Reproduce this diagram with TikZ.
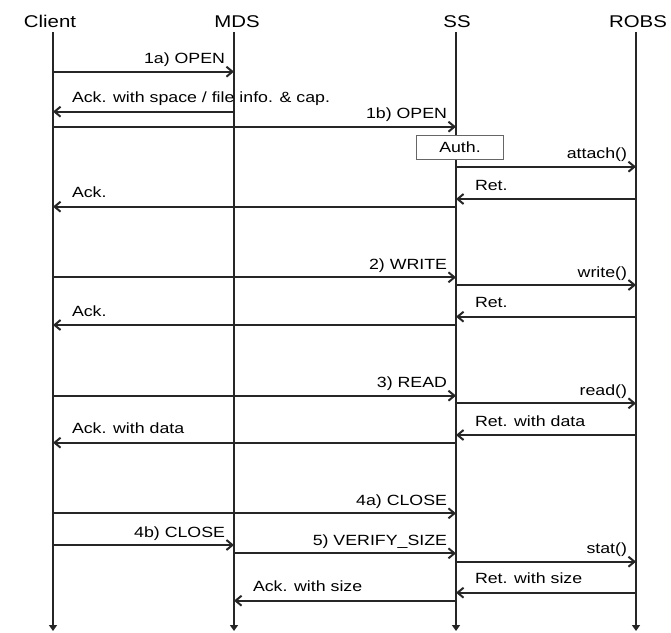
\documentclass[tikz,border=0pt]{standalone}
\usepackage{fontspec}
\setmainfont{Liberation Sans}[FakeStretch=1.2]
\usetikzlibrary{arrows.meta,positioning}

% message to the right: name, from, to, y, label
\newcommand{\callmsg}[5]{%
  \draw[msg] (#2 |- 0,#4) -- (#3 |- 0,#4)
    node[lbl,pos=1,anchor=base east,xshift=-8pt,yshift=8pt] (#1) {#5};}
% message to the left: name, from, to, y, label
\newcommand{\retmsg}[5]{%
  \draw[msg] (#2 |- 0,#4) -- (#3 |- 0,#4)
    node[lbl,pos=1,anchor=base west,xshift=18pt,yshift=9pt] (#1) {#5};}

\begin{document}
\begin{tikzpicture}[
		x=1pt,y=-1pt,
		actor/.style={anchor=base,font=\fontsize{17}{20}\selectfont},
		lbl/.style={inner sep=0pt,font=\fontsize{14.8}{17}\selectfont},
		msg/.style={line width=2pt,draw=black!85,-{Straight Barb[length=6pt,width=10pt]}},
		life/.style={line width=1.6pt,draw=black!85,-{Triangle[length=6pt,width=8pt]}}
		]
		\useasboundingbox (0,0) rectangle (671,632);
		
		% actors
		\node[actor] (client) at (50,27) {Client};
		\node[actor] (mds) at (237,27) {MDS};
		\node[actor] (ss) at (457,27) {SS};
		\node[actor] (robs) at (638,27) {ROBS};
		
		% lifelines
		\coordinate (cTop) at (53,32);
		\coordinate (mTop) at (234,32);
		\coordinate (sTop) at (456,32);
		\coordinate (rTop) at (636,32);
		\coordinate (cBot) at (53,631);
		\coordinate (mBot) at (234,631);
		\coordinate (sBot) at (456,631);
		\coordinate (rBot) at (636,631);
		\draw[life] (cTop)--(cBot);
		\draw[life] (mTop)--(mBot);
		\draw[life] (sTop)--(sBot);
		\draw[life] (rTop)--(rBot);
		
		% open
		\callmsg{open1a}{cTop}{mTop}{71.7}{1a) OPEN}
		\retmsg{ackcap}{mTop}{cTop}{111.7}{Ack. with space / file info. \& cap.}
		\callmsg{open1b}{cTop}{sTop}{126.7}{1b) OPEN}
		\node[draw=black!60,fill=white,line width=0.8pt,minimum width=87pt,minimum height=24pt,
			font=\fontsize{14.8}{17}\selectfont] (auth) at (460,147) {Auth.};
		\callmsg{attach}{sTop}{rTop}{166.7}{attach()}
		\retmsg{ret1}{rTop}{sTop}{199}{Ret.}
		\retmsg{ack1}{sTop}{cTop}{206.7}{Ack.}
		
		% write
		\callmsg{write}{cTop}{sTop}{277.3}{2) WRITE}
		\callmsg{writeobj}{sTop}{rTop}{285}{write()}
		\retmsg{ret2}{rTop}{sTop}{316.7}{Ret.}
		\retmsg{ack2}{sTop}{cTop}{325}{Ack.}
		
		% read
		\callmsg{read}{cTop}{sTop}{395.7}{3) READ}
		\callmsg{readobj}{sTop}{rTop}{403.3}{read()}
		\retmsg{ret3}{rTop}{sTop}{435}{Ret. with data}
		\retmsg{ack3}{sTop}{cTop}{442.7}{Ack. with data}
		
		% close
		\callmsg{close4a}{cTop}{sTop}{513.3}{4a) CLOSE}
		\callmsg{close4b}{cTop}{mTop}{545}{4b) CLOSE}
		\callmsg{verify}{mTop}{sTop}{553.3}{5) VERIFY\_SIZE}
		\callmsg{stat}{sTop}{rTop}{561.7}{stat()}
		\retmsg{ret5}{rTop}{sTop}{592.7}{Ret. with size}
		\retmsg{ack5}{sTop}{mTop}{600.7}{Ack. with size}
		
	\end{tikzpicture}
\end{document}
